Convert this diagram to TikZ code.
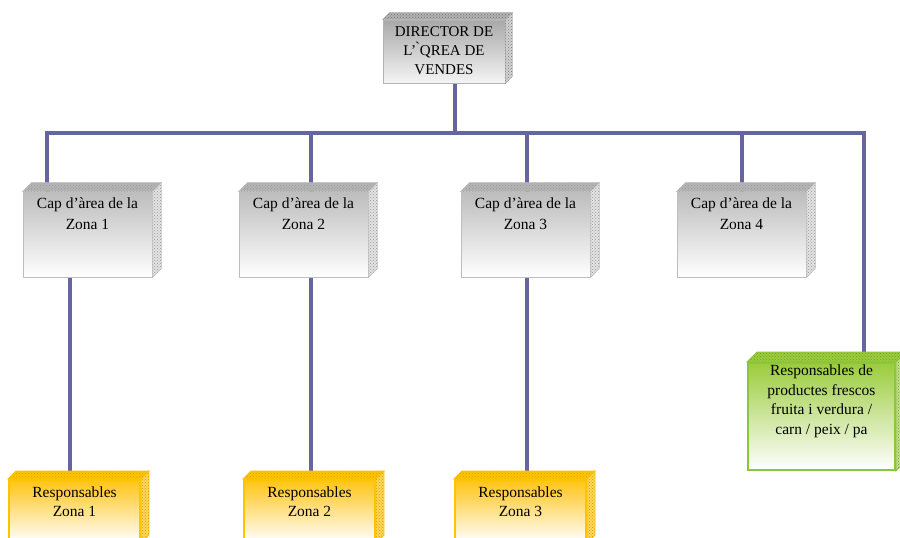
\documentclass[tikz,border=0pt]{standalone}
\usepackage{fontspec}
\setmainfont{Liberation Serif}
\usetikzlibrary{patterns}

\pgfdeclarelayer{wires}
\pgfsetlayers{wires,main}

% palette
\definecolor{wirecol}{RGB}{102,102,158}
\definecolor{greyedge}{RGB}{190,190,190}
\definecolor{greydots}{RGB}{150,150,150}
\definecolor{dirdots}{RGB}{120,120,120}
\definecolor{yelfill}{RGB}{255,196,20}
\definecolor{yeledge}{RGB}{255,196,0}
\definecolor{yeldots}{RGB}{215,160,0}
\definecolor{grnfill}{RGB}{155,204,60}
\definecolor{grnedge}{RGB}{140,198,63}
\definecolor{grndots}{RGB}{110,160,40}

\tikzset{
  x=1pt, y=-1pt,
  wire/.style={draw=wirecol, line width=4pt},
  boxtext/.style={align=center, inner sep=0pt, text=black},
  % grey boxes (area heads)
  greyface/.style={draw=greyedge, line width=0.8pt, top color=gray!52, bottom color=white},
  greytop/.style={fill=gray!58, draw=greyedge, line width=0.5pt},
  greyside/.style={fill=gray!22, draw=greyedge, line width=0.5pt},
  greyfont/.style={font=\fontsize{15.5}{21}\selectfont},
  % director box
  dirface/.style={draw=gray!60, line width=0.8pt, top color=gray!68, bottom color=gray!8},
  dirtop/.style={fill=gray!62, draw=gray!60, line width=0.5pt},
  dirside/.style={fill=gray!35, draw=gray!60, line width=0.5pt},
  dirfont/.style={font=\fontsize{15}{19}\selectfont},
  % yellow boxes (zone staff)
  yelface/.style={draw=yeledge, line width=2pt, top color=yelfill, bottom color=white},
  yeltop/.style={fill=yeledge, draw=yeledge, line width=0.8pt},
  yelside/.style={fill=yelfill!70, draw=yeledge, line width=0.8pt},
  yelfont/.style={font=\fontsize{15.5}{18.5}\selectfont},
  % green box (fresh produce)
  grnface/.style={draw=grnedge, line width=2pt, top color=grnfill, bottom color=white},
  grntop/.style={fill=grnfill, draw=grnedge, line width=0.8pt},
  grnside/.style={fill=grnfill!60, draw=grnedge, line width=0.8pt},
  grnfont/.style={font=\fontsize{15.5}{19.5}\selectfont},
}

% \orgbox{name}{cx}{cy}{width}{height}{depth}{kind}{last baseline below top}{text}
\newcommand\orgbox[9]{%
  \node[#7face, minimum width=#4pt, minimum height=#5pt, inner sep=0pt] (#1) at (#2,#3) {};
  \path[#7top] (#1.north west) -- ++(#6,-#6) -- ([shift={(#6,-#6)}]#1.north east)
     -- (#1.north east) -- cycle;
  \fill[pattern=crosshatch dots, pattern color=#7dots] (#1.north west) -- ++(#6,-#6)
     -- ([shift={(#6,-#6)}]#1.north east) -- (#1.north east) -- cycle;
  \path[#7side] (#1.north east) -- ++(#6,-#6) -- ([shift={(#6,-#6)}]#1.south east)
     -- (#1.south east) -- cycle;
  \fill[pattern=crosshatch dots, pattern color=#7dots] (#1.north east) -- ++(#6,-#6)
     -- ([shift={(#6,-#6)}]#1.south east) -- (#1.south east) -- cycle;
  \node[boxtext, #7font, anchor=base] (#1-t) at ([yshift=-#8pt]#1.north) {#9};
}

\begin{document}
\begin{tikzpicture}
  \useasboundingbox (0,0) rectangle (900,538);
  \clip (0,0) rectangle (900,538);

  % director
  \orgbox{dir}{444}{51.5}{122}{63}{7}{dir}{55}{DIRECTOR DE\\L’\`{}QREA DE\\VENDES}

  % area heads
  \orgbox{c1}{87.5}{234.5}{129}{85}{9}{grey}{38}{Cap d’àrea de la\\Zona 1}
  \orgbox{c2}{303.5}{234.5}{129}{85}{9}{grey}{38}{Cap d’àrea de la\\Zona 2}
  \orgbox{c3}{525.5}{234.5}{129}{85}{9}{grey}{38}{Cap d’àrea de la\\Zona 3}
  \orgbox{c4}{741.5}{234.5}{129}{85}{9}{grey}{38}{Cap d’àrea de la\\Zona 4}

  % zone staff
  \orgbox{y1}{74.5}{511}{131}{62}{8}{yel}{37}{Responsables\\Zona 1}
  \orgbox{y2}{309.5}{511}{131}{62}{8}{yel}{37}{Responsables\\Zona 2}
  \orgbox{y3}{520.5}{511}{131}{62}{8}{yel}{37}{Responsables\\Zona 3}

  % fresh produce
  \orgbox{g}{821.5}{416.5}{147}{107}{10}{grn}{72}{Responsables de\\productes frescos\\fruita i verdura /\\carn / peix / pa}

  % bus joints
  \coordinate (bt) at (455,133);
  \coordinate (b1) at (47,133);
  \coordinate (b2) at (311,133);
  \coordinate (b3) at (527,133);
  \coordinate (b4) at (742,133);
  \coordinate (b5) at (864,133);
  % drop lines towards the zone staff
  \coordinate (k1) at (70,380);
  \coordinate (k2) at (311,380);
  \coordinate (k3) at (527,380);

  \begin{pgfonlayer}{wires}
    \draw[wire] (dir.south -| bt) -- (bt);
    \draw[wire] (c1.north -| b1) -- (b1) -- (b5) -- (g.north -| b5);
    \draw[wire] (b2) -- (c2.north -| b2);
    \draw[wire] (b3) -- (c3.north -| b3);
    \draw[wire] (b4) -- (c4.north -| b4);
    \draw[wire] (c1.south -| k1) -- (y1.north -| k1);
    \draw[wire] (c2.south -| k2) -- (y2.north -| k2);
    \draw[wire] (c3.south -| k3) -- (y3.north -| k3);
  \end{pgfonlayer}
\end{tikzpicture}
\end{document}
